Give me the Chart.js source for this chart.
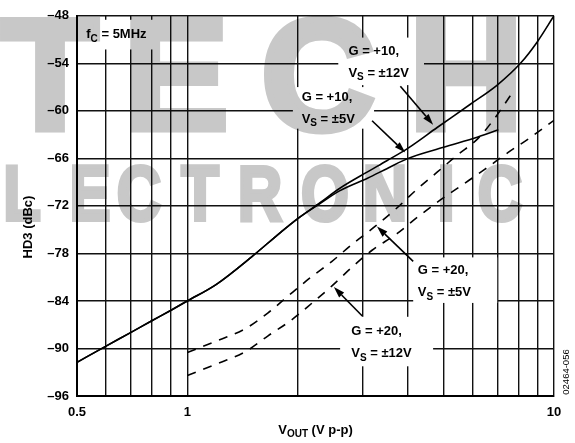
<!DOCTYPE html>
<html>
<head>
<meta charset="utf-8">
<script src="https://cdn.jsdelivr.net/npm/chart.js@4.4.0/dist/chart.umd.min.js"></script>
<style>
  body { margin: 0; background: #fff; }
</style>
</head>
<body>
<canvas id="hd3Chart" width="575" height="443"></canvas>
<script>
// HD3 (dBc) vs output voltage, fC = 5MHz
const xTicks = [0.5, 0.6, 0.7, 0.8, 0.9, 1, 2, 3, 4, 5, 6, 7, 8, 9, 10];
const xLabelled = [0.5, 1, 10];
const yTicks = [-96, -90, -84, -78, -72, -66, -60, -54, -48];

// G = +10, Vs = +/-12V (solid)
const g10v12X = [0.5, 0.6, 0.7, 0.8, 0.9, 1, 1.2, 1.5, 1.8, 2, 2.3, 2.6, 3.1, 3.5, 4, 4.8, 5.9, 7, 8.1, 9, 10];
const g10v12Y = [-91.75, -89.7, -88.0, -86.5, -85.2, -84, -81.9, -78.4, -75.3, -73.6, -71.6, -69.8, -67.7, -66.3, -64.7, -62.1, -59.2, -56.75, -54, -51.3, -48];
// G = +10, Vs = +/-5V (solid)
const g10v5X = [0.5, 0.6, 0.7, 0.8, 0.9, 1, 1.2, 1.5, 1.8, 2, 2.3, 2.6, 3.1, 3.5, 4, 5, 6.2, 7.05];
const g10v5Y = [-91.75, -89.7, -88.0, -86.5, -85.2, -84, -81.9, -78.4, -75.3, -73.6, -71.7, -70.1, -68.5, -67.3, -66, -64.6, -63.3, -62.4];
// G = +20, Vs = +/-5V (dashed)
const g20v5X = [1, 1.21, 1.44, 1.66, 1.88, 2.16, 2.48, 2.83, 3.25, 3.7, 4.23, 4.8, 5.44, 6.2, 6.9, 7.6];
const g20v5Y = [-90.5, -89, -87.5, -85.5, -83.4, -81.1, -79, -76.75, -74.6, -72.4, -69.9, -67.75, -65.6, -63.5, -60.9, -58.1];
// G = +20, Vs = +/-12V (dashed)
const g20v12X = [1, 1.21, 1.44, 1.66, 1.91, 2.19, 2.48, 2.81, 3.19, 3.73, 4.25, 4.9, 5.6, 6.47, 7.5, 8.6, 10];
const g20v12Y = [-93.4, -91.9, -90.4, -88.4, -86.5, -84.25, -82.1, -79.75, -77.6, -75.5, -73.4, -71.25, -69.4, -67.4, -65.25, -63.4, -61.2];

// callouts: text anchor, white box behind, arrow (all in data units)
const callouts = [
    { lines: ['f{C} = 5MHz'], at: [0.53, -50.4], box: [0.511, 0.871, -48.5, -52.25] },
    { lines: ['G = +10,', 'V{S} = ±12V'], at: [2.75, -52.5], box: [2.58, 4.42, -50.75, -56.75], arrow: [3.81, -56.9, 4.68, -61.75] },
    { lines: ['G = +10,', 'V{S} = ±5V'], at: [2.05, -58.3], box: [1.94, 3.23, -57, -62.25], arrow: [3.19, -61.25, 3.93, -65.25] },
    { lines: ['G = +20,', 'V{S} = ±5V'], at: [4.25, -80.2], box: [4.13, 7.0, -78.5, -84.25], arrow: [4.13, -79, 3.29, -74.6] },
    { lines: ['G = +20,', 'V{S} = ±12V'], at: [2.8, -87.9], box: [2.61, 4.68, -86, -92.25], arrow: [3.0, -85.9, 2.51, -82.25] }
];

const FONT = '"Liberation Sans", Arial, Helvetica, sans-serif';

function zip(xs, ys) {
    return xs.map((x, i) => ({ x: x, y: ys[i] }));
}

// draw text with {sub} markers as subscripts, returns width
function richText(ctx, str, x, y, size, measureOnly) {
    const bits = str.split(/(\{\w+\})/).filter(s => s);
    let cx = x;
    bits.forEach(b => {
        const sub = b[0] === '{';
        const t = sub ? b.slice(1, -1) : b;
        ctx.font = `bold ${sub ? Math.round(size * 0.78) : size}px ${FONT}`;
        if (!measureOnly) ctx.fillText(t, cx, sub ? y + size * 0.32 : y);
        cx += ctx.measureText(t).width;
    });
    return cx - x;
}

function arrow(ctx, x1, y1, x2, y2) {
    const a = Math.atan2(y2 - y1, x2 - x1);
    const head = 11, half = 3.5;
    const bx = x2 - head * Math.cos(a), by = y2 - head * Math.sin(a);
    ctx.beginPath();
    ctx.moveTo(x1, y1);
    ctx.lineTo(bx, by);
    ctx.stroke();
    ctx.beginPath();
    ctx.moveTo(x2, y2);
    ctx.lineTo(bx + half * Math.sin(a), by - half * Math.cos(a));
    ctx.lineTo(bx - half * Math.sin(a), by + half * Math.cos(a));
    ctx.closePath();
    ctx.fill();
}

// grey watermark letters, painted once on a spare canvas
function watermark(w, h) {
    const c = document.createElement('canvas');
    c.width = w;
    c.height = h;
    const g = c.getContext('2d');
    g.fillStyle = '#c8c8c8';
    g.strokeStyle = '#c8c8c8';
    g.lineJoin = 'miter';
    g.textBaseline = 'alphabetic';
    g.textAlign = 'center';
    g.font = `bold 158px ${FONT}`;
    g.lineWidth = 7;
    [['T', 50], ['E', 176], ['C', 318], ['H', 466]].forEach(([ch, x]) => {
        g.fillText(ch, x, 129);
        g.strokeText(ch, x, 129);
    });
    g.font = `bold 77px ${FONT}`;
    g.lineWidth = 4;
    [['L', 22], ['E', 90], ['C', 139], ['T', 200], ['R', 260], ['O', 325], ['N', 385], ['I', 446], ['C', 500]].forEach(([ch, x]) => {
        g.save();
        g.translate(x, 220);
        g.scale(0.8, 1);
        g.fillText(ch, 0, 0);
        g.strokeText(ch, 0, 0);
        g.restore();
    });
    return c;
}

const annotate = {
    id: 'annotate',
    beforeDraw(chart) {
        const ctx = chart.ctx;
        ctx.save();
        ctx.fillStyle = '#fff';
        ctx.fillRect(0, 0, chart.width, chart.height);
        ctx.restore();
    },
    beforeDatasetsDraw(chart) {
        const ctx = chart.ctx, xs = chart.scales.x, ys = chart.scales.y;
        ctx.save();
        ctx.fillStyle = '#fff';
        callouts.forEach(c => {
            const l = xs.getPixelForValue(c.box[0]), r = xs.getPixelForValue(c.box[1]);
            const t = ys.getPixelForValue(c.box[2]), b = ys.getPixelForValue(c.box[3]);
            ctx.fillRect(l, t, r - l, b - t);
        });
        ctx.fillStyle = '#000';
        ctx.textBaseline = 'middle';
        ctx.textAlign = 'left';
        callouts.forEach(c => {
            const x = xs.getPixelForValue(c.at[0]);
            let y = ys.getPixelForValue(c.at[1]);
            c.lines.forEach(line => {
                richText(ctx, line, x, y, 13);
                y += 22;
            });
        });
        ctx.restore();
    },
    afterDatasetsDraw(chart) {
        const ctx = chart.ctx, xs = chart.scales.x, ys = chart.scales.y;
        ctx.save();
        ctx.strokeStyle = '#000';
        ctx.fillStyle = '#000';
        ctx.lineWidth = 1.6;
        callouts.filter(c => c.arrow).forEach(c => {
            const a = c.arrow;
            arrow(ctx, xs.getPixelForValue(a[0]), ys.getPixelForValue(a[1]),
                xs.getPixelForValue(a[2]), ys.getPixelForValue(a[3]));
        });

        // x axis title with subscript
        ctx.textBaseline = 'middle';
        const title = 'V{OUT} (V p-p)';
        const w = richText(ctx, title, 0, 0, 13, true);
        const cx = (chart.chartArea.left + chart.chartArea.right) / 2;
        richText(ctx, title, cx - w / 2, 430, 13);

        // y axis title
        ctx.save();
        ctx.translate(28, 227);
        ctx.rotate(-Math.PI / 2);
        ctx.textAlign = 'center';
        ctx.font = `bold 13px ${FONT}`;
        ctx.fillText('HD3 (dBc)', 0, 0);
        ctx.restore();

        // figure code on the right edge
        ctx.translate(566, 372);
        ctx.rotate(-Math.PI / 2);
        ctx.textAlign = 'center';
        ctx.font = `9.5px ${FONT}`;
        ctx.fillText('02464-056', 0, 0);
        ctx.restore();
    },
    afterDraw(chart) {
        const ctx = chart.ctx;
        ctx.save();
        ctx.globalCompositeOperation = 'multiply';
        ctx.drawImage(watermark(chart.width, chart.height), 0, 0);
        ctx.restore();
    }
};

const ctx = document.getElementById('hd3Chart').getContext('2d');

const lineStyle = {
    showLine: true,
    pointRadius: 0,
    borderColor: '#000',
    borderWidth: 1.6,
    cubicInterpolationMode: 'monotone',
    fill: false
};

new Chart(ctx, {
    type: 'scatter',
    data: {
        datasets: [
            Object.assign({ label: 'G = +10, VS = ±12V', data: zip(g10v12X, g10v12Y) }, lineStyle),
            Object.assign({ label: 'G = +10, VS = ±5V', data: zip(g10v5X, g10v5Y) }, lineStyle),
            Object.assign({ label: 'G = +20, VS = ±5V', data: zip(g20v5X, g20v5Y), borderDash: [9, 8] }, lineStyle),
            Object.assign({ label: 'G = +20, VS = ±12V', data: zip(g20v12X, g20v12Y), borderDash: [9, 8] }, lineStyle)
        ]
    },
    options: {
        responsive: false,
        animation: false,
        layout: { padding: { top: 12, right: 21, left: 0, bottom: 0 } },
        plugins: {
            legend: { display: false },
            tooltip: { enabled: false }
        },
        scales: {
            x: {
                type: 'logarithmic',
                min: 0.5,
                max: 10,
                afterBuildTicks: scale => {
                    scale.ticks = xTicks.map(v => ({ value: v }));
                },
                afterFit: scale => { scale.height = 47; },
                ticks: {
                    autoSkip: false,
                    maxRotation: 0,
                    padding: 9,
                    color: '#000',
                    font: { family: FONT, size: 13, weight: 'bold' },
                    callback: v => xLabelled.includes(v) ? String(v) : ''
                },
                grid: { color: '#111', lineWidth: 1.4, drawTicks: false },
                border: { display: true, color: '#000', width: 2 }
            },
            y: {
                min: -96,
                max: -48,
                afterBuildTicks: scale => {
                    scale.ticks = yTicks.map(v => ({ value: v }));
                },
                afterFit: scale => { scale.width = 77; },
                ticks: {
                    padding: 8,
                    color: '#000',
                    font: { family: FONT, size: 13, weight: 'bold' },
                    callback: v => '\u2013' + Math.abs(v)
                },
                grid: { color: '#111', lineWidth: 1.4, drawTicks: false },
                border: { display: true, color: '#000', width: 2 }
            }
        }
    },
    plugins: [annotate]
});
</script>
</body>
</html>
